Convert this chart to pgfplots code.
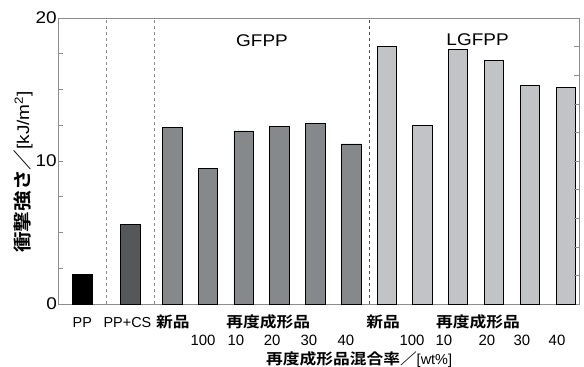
\documentclass[border=0pt]{standalone}
\usepackage{pgfplots}
\pgfplotsset{compat=1.18}
\usepackage{fontspec}
\setmainfont{Liberation Sans}
\newfontfamily\latw{Liberation Sans}[FakeStretch=1.12]
\newfontfamily\cjkb{Noto Sans CJK JP Bold}[FakeStretch=1.12]
\definecolor{cPP}{HTML}{000000}
\definecolor{cCS}{HTML}{54585B}
\definecolor{cGF}{HTML}{85898C}
\definecolor{cLG}{HTML}{C1C3C6}
\definecolor{frame}{HTML}{8C8C8C}
\newcommand{\rowtwo}[2]{\node[font=\fontsize{15}{15}\selectfont] at ([yshift=-41bp]axis cs:#1,0) {#2};}
\begin{document}
\begin{tikzpicture}
\useasboundingbox (-58bp,-63bp) rectangle (526bp,304bp);
\begin{axis}[
  at={(0,0)}, anchor=south west,
  scale only axis, width=521bp, height=286bp,
  xmin=0, xmax=14.553, ymin=0, ymax=20,
  clip=false,
  axis line style={frame, line width=0.8pt},
  xtick=\empty,
  ytick={0,10,20}, yticklabels={0,10,20},
  minor ytick={2.5,5,7.5,12.5,15,17.5},
  ytick pos=left, tick align=inside,
  major tick length=5bp, minor tick length=5bp,
  tick style={frame, line width=0.6pt},
  yticklabel style={font=\fontsize{17}{17}\latw, inner sep=1bp},
  /pgf/number format/assume math mode=true,
  ylabel={{\fontsize{18.5}{18.5}\cjkb 衝撃強さ／}{\fontsize{17}{17}\latw[kJ/m\textsuperscript{2}]}},
  ylabel style={at={(axis description cs:-0.067,0.4615)}, anchor=center, rotate=0},
  ybar, bar width=0.55, bar shift=0pt,
  every axis plot/.append style={draw=black, line width=0.9pt, bar shift=0pt},
]
\addplot[fill=cPP] coordinates {(0.68,2.08)};
\addplot[fill=cCS] coordinates {(2.03,5.57)};
\addplot[fill=cGF] coordinates {(3.19,12.33) (4.19,9.49) (5.19,12.1) (6.19,12.4) (7.19,12.63) (8.19,11.19)};
\addplot[fill=cLG] coordinates {(9.19,18.0) (10.18,12.47) (11.17,17.83) (12.18,17.0) (13.18,15.3) (14.19,15.15)};
\draw[frame, dashed, line width=0.6pt] (axis cs:1.36,0) -- (axis cs:1.36,20);
\draw[frame, dashed, line width=0.6pt] (axis cs:2.69,0) -- (axis cs:2.69,20);
\draw[black!70, dashed, line width=0.6pt] (axis cs:8.69,0) -- (axis cs:8.69,20);
\node[font=\fontsize{17}{17}\latw] at (axis cs:5.70,18.4) {GFPP};
\node[font=\fontsize{17}{17}\latw] at (axis cs:11.72,18.5) {LGFPP};
\begin{scope}[every node/.style={anchor=base, inner sep=0pt}]
\node[font=\fontsize{14.5}{14.5}\selectfont] at ([yshift=-23bp]axis cs:0.68,0) {PP};
\node[font=\fontsize{14.5}{14.5}\selectfont] at ([yshift=-23bp]axis cs:1.94,0) {PP+CS};
\node[font=\fontsize{15}{15}\cjkb] at ([yshift=-23bp]axis cs:3.21,0) {新品};
\node[font=\fontsize{15}{15}\cjkb] at ([yshift=-23bp]axis cs:5.87,0) {再度成形品};
\node[font=\fontsize{15}{15}\cjkb] at ([yshift=-23bp]axis cs:9.08,0) {新品};
\node[font=\fontsize{15}{15}\cjkb] at ([yshift=-23bp]axis cs:11.73,0) {再度成形品};
\rowtwo{4.05}{100}
\rowtwo{4.97}{10}
\rowtwo{5.98}{20}
\rowtwo{7.01}{30}
\rowtwo{8.04}{40}
\rowtwo{9.89}{100}
\rowtwo{10.78}{10}
\rowtwo{11.98}{20}
\rowtwo{12.96}{30}
\rowtwo{13.94}{40}
\node at ([yshift=-60bp]axis cs:8.41,0) {{\fontsize{15}{15}\cjkb 再度成形品混合率／}{\fontsize{14.5}{14.5}\selectfont[wt\%]}};
\end{scope}
\end{axis}
\begin{axis}[
  at={(0,0)}, anchor=south west,
  scale only axis, width=521bp, height=286bp,
  xmin=0, xmax=14.553, ymin=0, ymax=20,
  hide x axis,
  axis y line*=right,
  axis line style={frame, line width=0.8pt},
  ytick={2,4,...,18}, yticklabels={},
  tick align=inside, major tick length=5bp,
  tick style={frame, line width=0.6pt},
]
\addplot[draw=none] coordinates {(0,0)};
\end{axis}
\end{tikzpicture}
\end{document}
